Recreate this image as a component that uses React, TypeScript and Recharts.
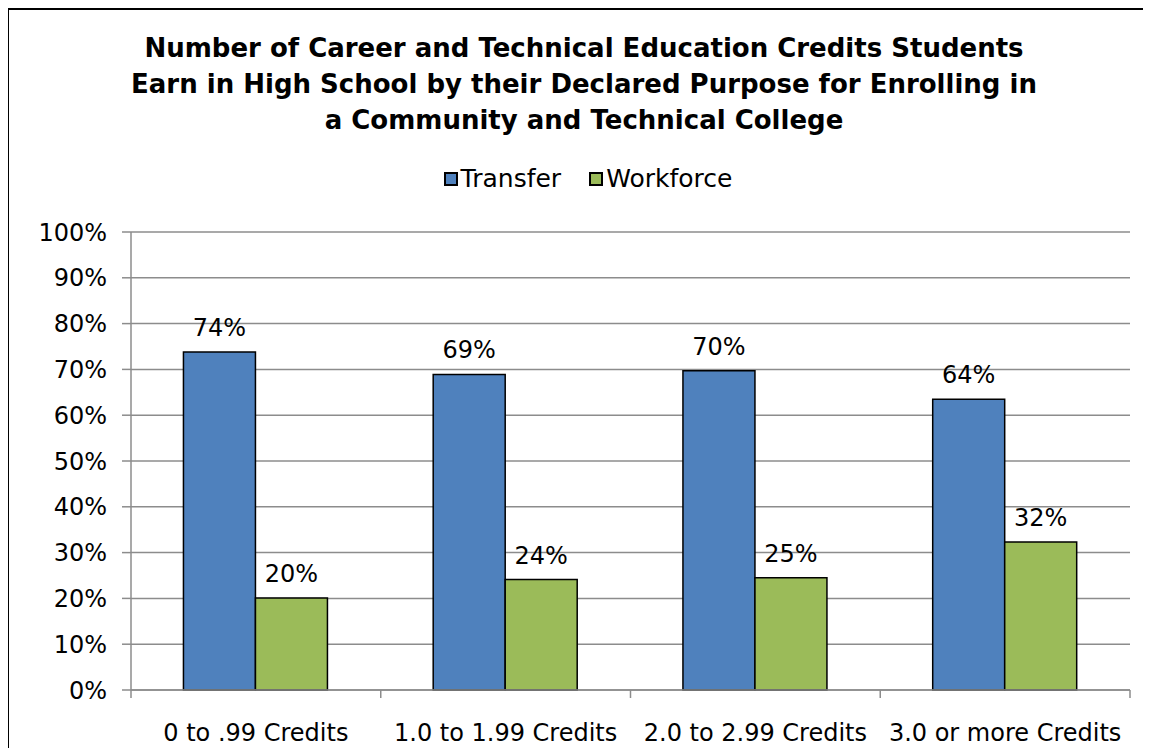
import { Bar, BarChart, CartesianGrid, LabelList, XAxis, YAxis } from "recharts"

const categories = ["0 to .99 Credits", "1.0 to 1.99 Credits", "2.0 to 2.99 Credits", "3.0 or more Credits"]
const transfer = [73.8, 68.9, 69.7, 63.5]
const workforce = [20.1, 24.1, 24.5, 32.3]
const yTicks = [0, 10, 20, 30, 40, 50, 60, 70, 80, 90, 100]
const boundaryTicks = [0, 1, 2, 3, 4]

const titleLines = [
  "Number of Career and Technical Education Credits Students",
  "Earn in High School by their Declared Purpose for Enrolling in",
  "a Community and Technical College",
]

const data = categories.map((name, i) => ({ name, idx: i + 0.5, transfer: transfer[i], workforce: workforce[i] }))

const font = "'DejaVu Sans', Verdana, sans-serif"
const blue = "#4F81BD"
const green = "#9BBB59"
const gridGray = "#8C8C8C"

export default function App() {
  return (
    <div style={{ position: "relative", width: 1150, height: 760, border: "2px solid #000", fontFamily: font, background: "#fff", marginLeft: -1 }}>
      <div style={{ position: "absolute", left: 0, width: 1150, top: 20, textAlign: "center", fontWeight: "bold", fontSize: 26, lineHeight: "36px", color: "#000" }}>
        {titleLines.map((t) => (
          <div key={t}>{t}</div>
        ))}
      </div>
      <div style={{ position: "absolute", left: 0, width: 1158, top: 154, display: "flex", justifyContent: "center", gap: 28, fontSize: 25, color: "#000" }}>
        {[["Transfer", blue], ["Workforce", green]].map(([label, color]) => (
          <div key={label} style={{ display: "flex", alignItems: "center", gap: 3 }}>
            <span style={{ width: 10, height: 10, background: color, border: "2px solid #000", display: "inline-block" }} />
            <span>{label}</span>
          </div>
        ))}
      </div>
      <BarChart
        width={1141}
        height={740}
        data={data}
        margin={{ top: 222, right: 20, bottom: 10, left: 0 }}
        barCategoryGap="21%"
        barGap={0}
        style={{ position: "absolute", left: 0, top: 0 }}
      >
        <CartesianGrid horizontal vertical={false} stroke={gridGray} strokeWidth={1.5} />
        <XAxis
          type="number"
          dataKey="idx"
          domain={[0, 4]}
          ticks={boundaryTicks}
          tickFormatter={() => ""}
          tickSize={8}
          height={8}
          stroke={gridGray}
          axisLine={{ stroke: gridGray, strokeWidth: 1.5 }}
          tickLine={{ stroke: gridGray, strokeWidth: 1.5 }}
        />
        <XAxis
          xAxisId="cat"
          dataKey="name"
          axisLine={false}
          tickLine={false}
          tickSize={0}
          tickMargin={26}
          height={42}
          tick={{ fill: "#000", fontSize: 24, fontFamily: font }}
        />
        <YAxis
          domain={[0, 100]}
          ticks={yTicks}
          width={122}
          tickSize={9}
          tickMargin={15}
          tickFormatter={(v) => `${v}%`}
          stroke={gridGray}
          axisLine={{ stroke: gridGray, strokeWidth: 1.5 }}
          tickLine={{ stroke: gridGray, strokeWidth: 1.5 }}
          tick={{ fill: "#000", fontSize: 24, fontFamily: font }}
        />
        <Bar xAxisId="cat" dataKey="transfer" fill={blue} stroke="#000" strokeWidth={1.5} isAnimationActive={false}>
          <LabelList dataKey="transfer" position="top" offset={16} formatter={(v: any) => `${Math.round(v)}%`} fill="#000" fontSize={24} fontFamily={font} />
        </Bar>
        <Bar xAxisId="cat" dataKey="workforce" fill={green} stroke="#000" strokeWidth={1.5} isAnimationActive={false}>
          <LabelList dataKey="workforce" position="top" offset={16} formatter={(v: any) => `${Math.round(v)}%`} fill="#000" fontSize={24} fontFamily={font} />
        </Bar>
      </BarChart>
    </div>
  )
}
